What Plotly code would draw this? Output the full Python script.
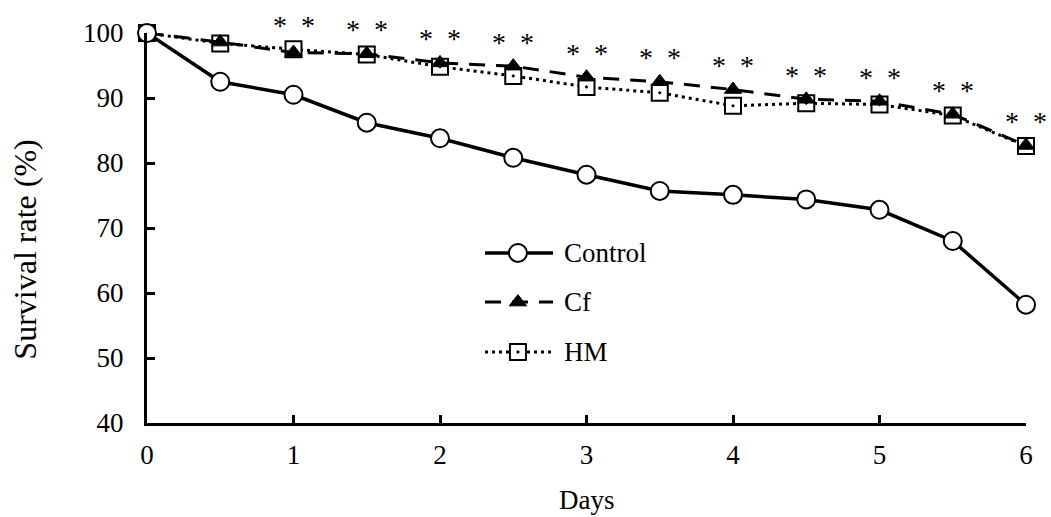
import plotly.graph_objects as go

# Survival over time (days) for three treatment groups
days = [0, 0.5, 1, 1.5, 2, 2.5, 3, 3.5, 4, 4.5, 5, 5.5, 6]
control = [100, 92.5, 90.5, 86.2, 83.8, 80.8, 78.2, 75.7, 75.1, 74.4, 72.8, 68.0, 58.2]
cf = [100, 98.6, 97.0, 96.8, 95.4, 94.9, 93.2, 92.5, 91.3, 89.8, 89.5, 87.5, 82.7]
hm = [100, 98.4, 97.5, 96.7, 94.8, 93.4, 91.7, 90.8, 88.8, 89.2, 89.0, 87.3, 82.6]

# Days at which both treatments differ significantly from control
sig_days = [1, 1.5, 2, 2.5, 3, 3.5, 4, 4.5, 5, 5.5, 6]
sig_label = "*\u2002*"

y_ticks = [40, 50, 60, 70, 80, 90, 100]
x_ticks = [0, 1, 2, 3, 4, 5, 6]

FONT = "Times New Roman, Liberation Serif, serif"
INK = "black"
TXT = 27

fig = go.Figure()

hm_style = dict(color=INK, width=3, dash="3px,4px")
cf_style = dict(color=INK, width=3, dash="16px,11px")
ctrl_style = dict(color=INK, width=3.5)

hm_marker = dict(symbol="square-dot", size=16, color="white", line=dict(color=INK, width=2))
cf_marker = dict(symbol="triangle-up", size=15, color=INK, line=dict(color=INK, width=1))
ctrl_marker = dict(symbol="circle", size=18, color="white", line=dict(color=INK, width=2))

fig.add_trace(go.Scatter(x=days, y=hm, mode="lines+markers", name="HM",
                         line=hm_style, marker=hm_marker, cliponaxis=False, showlegend=False))
fig.add_trace(go.Scatter(x=days, y=cf, mode="lines+markers", name="Cf",
                         line=cf_style, marker=cf_marker, cliponaxis=False, showlegend=False))
fig.add_trace(go.Scatter(x=days, y=control, mode="lines+markers", name="Control",
                         line=ctrl_style, marker=ctrl_marker, cliponaxis=False, showlegend=False))

# Significance asterisks above the treatment curves
for d in sig_days:
    i = days.index(d)
    top = max(cf[i], hm[i])
    fig.add_annotation(x=d, y=top, xref="x", yref="y", text=sig_label, showarrow=False,
                       yshift=24, yanchor="middle", xanchor="center",
                       font=dict(family=FONT, size=28, color=INK))

# Key drawn on an overlay axis spanning the plotting area (0..1 in both directions)
key_x0, key_xm, key_x1, key_text_x = 0.3845, 0.422, 0.4619, 0.4721
key_rows = [
    ("Control", 0.436, ctrl_style, ctrl_marker),
    ("Cf", 0.310, cf_style, cf_marker),
    ("HM", 0.182, hm_style, hm_marker),
]
for name, ky, lstyle, mstyle in key_rows:
    fig.add_trace(go.Scatter(x=[key_x0, key_x1], y=[ky, ky], mode="lines", line=lstyle,
                             xaxis="x2", yaxis="y2", showlegend=False, hoverinfo="skip",
                             cliponaxis=False))
    fig.add_trace(go.Scatter(x=[key_xm], y=[ky], mode="markers", marker=mstyle,
                             xaxis="x2", yaxis="y2", showlegend=False, hoverinfo="skip",
                             cliponaxis=False))
    fig.add_annotation(x=key_text_x, y=ky, xref="x2", yref="y2", text=name, showarrow=False,
                       xanchor="left", yanchor="middle",
                       font=dict(family=FONT, size=TXT, color=INK))

axis_common = dict(showgrid=False, zeroline=False, showline=True, linecolor=INK, linewidth=3,
                   ticks="inside", ticklen=8, tickwidth=2.5, tickcolor=INK,
                   tickfont=dict(family=FONT, size=TXT, color=INK))

fig.update_layout(
    width=1051, height=517,
    margin=dict(l=147, r=25, t=33, b=94),
    paper_bgcolor="white", plot_bgcolor="white",
    xaxis=dict(range=[0, 6], tickvals=x_ticks, ticklabelstandoff=6, **axis_common),
    yaxis=dict(range=[40, 100], tickvals=y_ticks, ticklabelstandoff=15, **axis_common),
    xaxis2=dict(overlaying="x", range=[0, 1], visible=False),
    yaxis2=dict(overlaying="y", range=[0, 1], visible=False),
    font=dict(family=FONT, color=INK),
)

# Axis titles
fig.add_annotation(x=0.5, y=-0.197, xref="paper", yref="paper", text="Days", showarrow=False,
                   xanchor="center", yanchor="middle", font=dict(family=FONT, size=TXT, color=INK))
fig.add_annotation(x=-0.139, y=0.444, xref="paper", yref="paper", text="Survival rate (%)",
                   showarrow=False, textangle=-90, xanchor="center", yanchor="middle",
                   font=dict(family=FONT, size=32, color=INK))

fig.write_html("out.html")
